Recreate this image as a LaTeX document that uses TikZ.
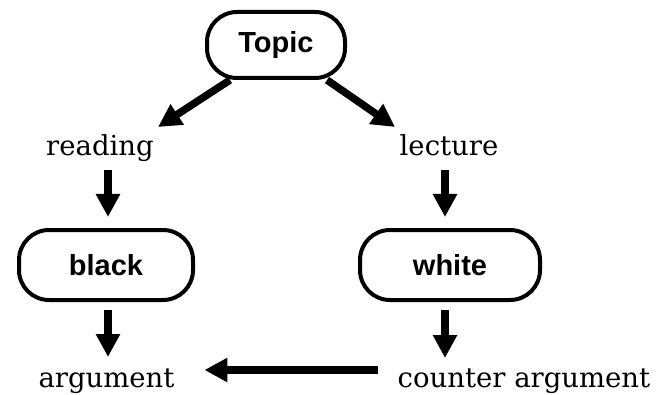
\documentclass[tikz,border=0pt]{standalone}
\usepackage{fontspec}
\setmainfont{DejaVu Serif}
\setsansfont{Liberation Sans}
\usetikzlibrary{arrows.meta,calc}
\begin{document}
\begin{tikzpicture}[x=1pt,y=-1pt,
  pill/.style={draw, line width=4pt, rounded corners=30pt, outer sep=0pt, inner sep=0pt,
    font=\sffamily\bfseries\fontsize{29}{32}\selectfont},
  txt/.style={inner sep=0pt, outer sep=0pt, anchor=base,
    font=\fontsize{27.5}{30}\selectfont},
  arr/.style={line width=7.5pt, -{Triangle[length=23pt,width=23pt]}}]
\useasboundingbox (0,0) rectangle (660,395);
\node[pill, minimum width=138pt, minimum height=66pt] (topic) at (276,45) {Topic};
\node[pill, minimum width=174pt, minimum height=70pt] (black) at (106,265) {black};
\node[pill, minimum width=180pt, minimum height=70pt] (white) at (450,265) {white};
\node[txt] (reading) at (100,156) {reading};
\node[txt] (lecture) at (449,156) {lecture};
\node[txt] (argument) at (106.5,387) {argument};
\node[txt] (counter) at (524,387) {counter argument};
\draw[arr] ($(topic.south)+(-46,2)$) -- ($(reading.base)+(58,-29)$);
\draw[arr] ($(topic.south)+(51,2)$) -- ($(lecture.base)+(-54,-29)$);
\draw[arr] ($(reading.base -| black.south)+(2,14)$) -- ($(black.north)+(2,-13)$);
\draw[arr] ($(lecture.base -| white.south)+(-5,14)$) -- ($(white.north)+(-5,-13)$);
\draw[arr] ($(black.south)+(2,10)$) -- ($(argument.base -| black.south)+(2,-30)$);
\draw[arr] ($(white.south)+(-5,10)$) -- ($(counter.base -| white.south)+(-5,-29)$);
\draw[arr] ($(counter.base west)+(-20,-17)$) -- ($(argument.base east)+(30,-17)$);
\end{tikzpicture}
\end{document}
